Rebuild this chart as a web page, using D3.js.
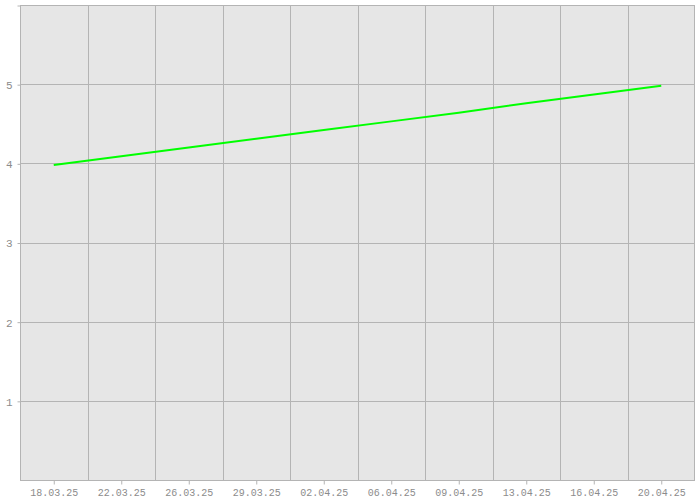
<!DOCTYPE html>
<html><head><meta charset="utf-8">
<script src="https://cdn.jsdelivr.net/npm/d3@7"></script>
<style>body{margin:0;background:#fff}svg{display:block}</style>
</head><body>
<svg id="c" width="700" height="500"></svg>
<script>
const categories = ["18.03.25","22.03.25","26.03.25","29.03.25","02.04.25","06.04.25","09.04.25","13.04.25","16.04.25","20.04.25"];
const values = [3.98, 4.09, 4.20, 4.31, 4.42, 4.53, 4.64, 4.76, 4.87, 4.98];
const yTicks = [1, 2, 3, 4, 5, 6];
const yTickLabels = ["1", "2", "3", "4", "5", ""];

const svg = d3.select("#c");
const L = 20, R = 695, T = 5, B = 480;
const x = d3.scaleBand().domain(categories).range([L, R]).padding(0);
const y = d3.scaleLinear().domain([0, 6]).range([B, T]);
const grid = "#b4b4b4", txt = "#8c8c8c";
const font = "'Liberation Mono', 'DejaVu Sans Mono', monospace";

svg.append("rect").attr("x", L).attr("y", T).attr("width", R - L).attr("height", B - T).attr("fill", "#e6e6e6");

// vertical grid at band boundaries
svg.append("g").selectAll("line").data(categories.slice(1)).join("line")
  .attr("x1", d => Math.round(x(d)) + 0.5).attr("x2", d => Math.round(x(d)) + 0.5)
  .attr("y1", T).attr("y2", B).attr("stroke", grid).attr("stroke-width", 1);
// horizontal grid
svg.append("g").selectAll("line").data(yTicks).join("line")
  .attr("x1", L).attr("x2", R)
  .attr("y1", d => Math.round(y(d)) + 0.5).attr("y2", d => Math.round(y(d)) + 0.5)
  .attr("stroke", grid).attr("stroke-width", 1);

// border
svg.append("rect").attr("x", L + 0.5).attr("y", T + 0.5).attr("width", R - L - 1).attr("height", B - T)
  .attr("fill", "none").attr("stroke", grid).attr("stroke-width", 1);

// y axis
const yAxis = d3.axisLeft(y).tickValues(yTicks).tickSize(3).tickPadding(5)
  .tickFormat((d, i) => yTickLabels[i]);
const gy = svg.append("g").attr("transform", `translate(${L + 0.5},0.5)`).call(yAxis);
gy.select(".domain").remove();
gy.selectAll(".tick line").attr("stroke", grid);
gy.selectAll("text").attr("fill", txt).attr("font-family", font).attr("font-size", 11).attr("dy", "0.35em");

// x axis
const xAxis = d3.axisBottom(x).tickSize(4).tickPadding(4);
const gx = svg.append("g").attr("transform", `translate(0.5,${B + 0.5})`).call(xAxis);
gx.select(".domain").remove();
gx.selectAll(".tick line").attr("stroke", grid);
gx.selectAll("text").attr("fill", txt).attr("font-family", font).attr("font-size", 10);

// line
const line = d3.line().x((d, i) => x(categories[i]) + x.bandwidth() / 2).y(d => y(d));
svg.append("path").datum(values).attr("d", line).attr("fill", "none")
  .attr("stroke", "#00ff00").attr("stroke-width", 2);
</script>
</body></html>
